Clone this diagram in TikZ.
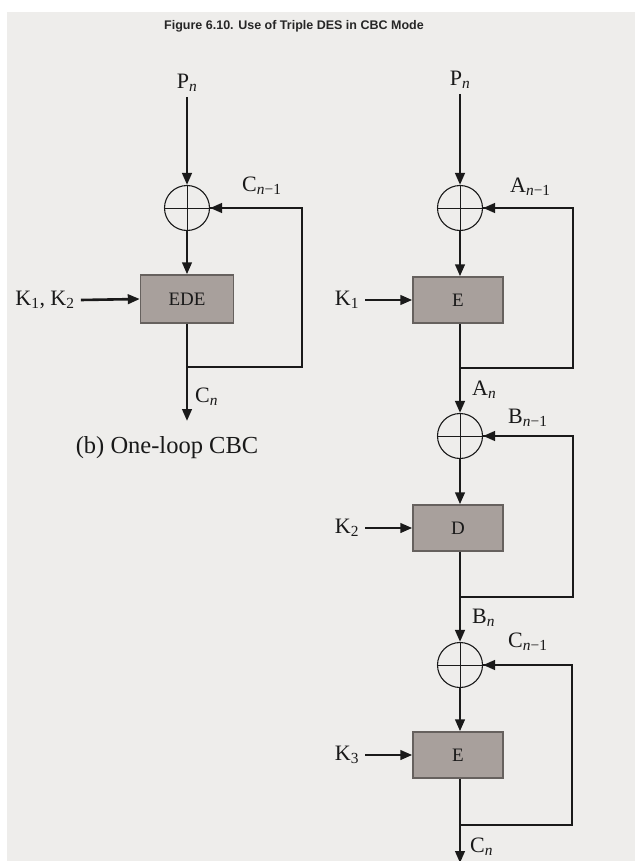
\documentclass[tikz,border=0pt]{standalone}
\usepackage{fontspec}
\setmainfont{Liberation Serif}
\newfontfamily\titlefont{Liberation Sans}
\usetikzlibrary{arrows.meta}
\definecolor{bgc}{HTML}{EEEDEB}
\definecolor{boxfill}{HTML}{A8A09C}
\definecolor{boxdraw}{HTML}{66615E}
\definecolor{linec}{HTML}{1A1A1A}
\tikzset{
  flow/.style={line width=2.6pt, draw=linec, -{Triangle[length=12pt,width=9.5pt]}},
  loopline/.style={line width=2.6pt, draw=linec},
  xorc/.style={circle, draw=linec, line width=1.1pt, minimum size=45pt, inner sep=0pt},
  cipher/.style={draw=boxdraw, fill=boxfill, line width=1.4pt, minimum width=90pt, minimum height=46pt, inner sep=0pt, font=\fontsize{19}{19}\selectfont, text=black!90},
  lbl/.style={font=\fontsize{22}{22}\selectfont, text=black!90, inner sep=0pt},
}
\newcommand{\sbn}[1]{\textsubscript{\textit{#1}}}
\newcommand{\sbm}[1]{\textsubscript{\textit{#1}−1}}
\newcommand{\xorcross}[1]{\draw[linec, line width=0.8pt] (#1.north) -- (#1.south) (#1.east) -- (#1.west);}
\begin{document}
\begin{tikzpicture}[x=1pt,y=-1pt]
\useasboundingbox (0,0) rectangle (635,861);
\fill[white] (0,0) rectangle (635,861);
\fill[bgc] (7,12) rectangle (635,861);
% title
\node[font=\titlefont\bfseries\fontsize{12.5}{12.5}\selectfont, text=black!85] (title) at (294,26) {Figure 6.10. Use of Triple DES in CBC Mode};

% ---- left: one-loop CBC
\node[lbl] (lp) at (187,83) {P\sbn{n}};
\node[xorc] (lx) at (187,208) {};
\xorcross{lx}
\node[cipher, minimum width=93pt, minimum height=48pt] (lede) at (187,299) {EDE};
\node[lbl] (lk) at (45,300) {K\textsubscript{1}, K\textsubscript{2}};
\node[lbl, anchor=west] (lcm) at (242,186) {C\sbm{n}};
\coordinate (lj) at (187,367);
\coordinate (lr) at (302,367);
\coordinate (lout) at (187,421);
\node[lbl, anchor=west] (lcn) at (195,397) {C\sbn{n}};
\node[font=\fontsize{24.5}{24.5}\selectfont, text=black!90] (cap) at (167,448) {(b) One-loop CBC};
\draw[flow] (lp.south) ++(0,5) -- (lx.north);
\draw[flow] (lx.south) -- (lede.north);
\draw[flow] (lk.east) ++(6,0) -- (lede.west);
\draw[flow] (lede.south) -- (lout);
\draw[loopline] (lj) -- (lr) |- (lx.east);
\draw[flow] (lr |- lx.east) -- (lx.east);

% ---- right: three-loop CBC
\node[lbl] (rp) at (460,80) {P\sbn{n}};
\node[xorc] (x1) at (460,208) {};
\xorcross{x1}
\node[cipher] (e1) at (458,300) {E};
\node[lbl] (k1) at (347,300) {K\textsubscript{1}};
\node[lbl, anchor=west] (am) at (510,187) {A\sbm{n}};
\coordinate (j1) at (460,368);
\coordinate (r1) at (573,368);
\node[lbl, anchor=west] (an) at (472,390) {A\sbn{n}};

\node[xorc] (x2) at (460,436) {};
\xorcross{x2}
\node[cipher] (d2) at (458,528) {D};
\node[lbl] (k2) at (347,528) {K\textsubscript{2}};
\node[lbl, anchor=west] (bm) at (508,418) {B\sbm{n}};
\coordinate (j2) at (460,597);
\coordinate (r2) at (573,597);
\node[lbl, anchor=west] (bn) at (472,618) {B\sbn{n}};

\node[xorc] (x3) at (460,665) {};
\xorcross{x3}
\node[cipher] (e3) at (458,755) {E};
\node[lbl] (k3) at (347,755) {K\textsubscript{3}};
\node[lbl, anchor=west] (cm) at (508,642) {C\sbm{n}};
\coordinate (j3) at (460,825);
\coordinate (r3) at (572,825);
\coordinate (rout) at (460,863);
\node[lbl, anchor=west] (cn) at (470,847) {C\sbn{n}};

\draw[flow] (rp.south) ++(0,5) -- (x1.north);
\draw[flow] (x1.south) -- (e1.north -| x1);
\draw[flow] (k1.east) ++(6,0) -- (e1.west);
\draw[flow] (e1.south -| x1) -- (x2.north);
\draw[loopline] (j1) -- (r1) |- (x1.east);
\draw[flow] (r1 |- x1.east) -- (x1.east);

\draw[flow] (x2.south) -- (d2.north -| x2);
\draw[flow] (k2.east) ++(6,0) -- (d2.west);
\draw[flow] (d2.south -| x2) -- (x3.north);
\draw[loopline] (j2) -- (r2) |- (x2.east);
\draw[flow] (r2 |- x2.east) -- (x2.east);

\draw[flow] (x3.south) -- (e3.north -| x3);
\draw[flow] (k3.east) ++(6,0) -- (e3.west);
\draw[flow] (e3.south -| x3) -- (rout);
\draw[loopline] (j3) -- (r3) |- (x3.east);
\draw[flow] (r3 |- x3.east) -- (x3.east);
\end{tikzpicture}
\end{document}
